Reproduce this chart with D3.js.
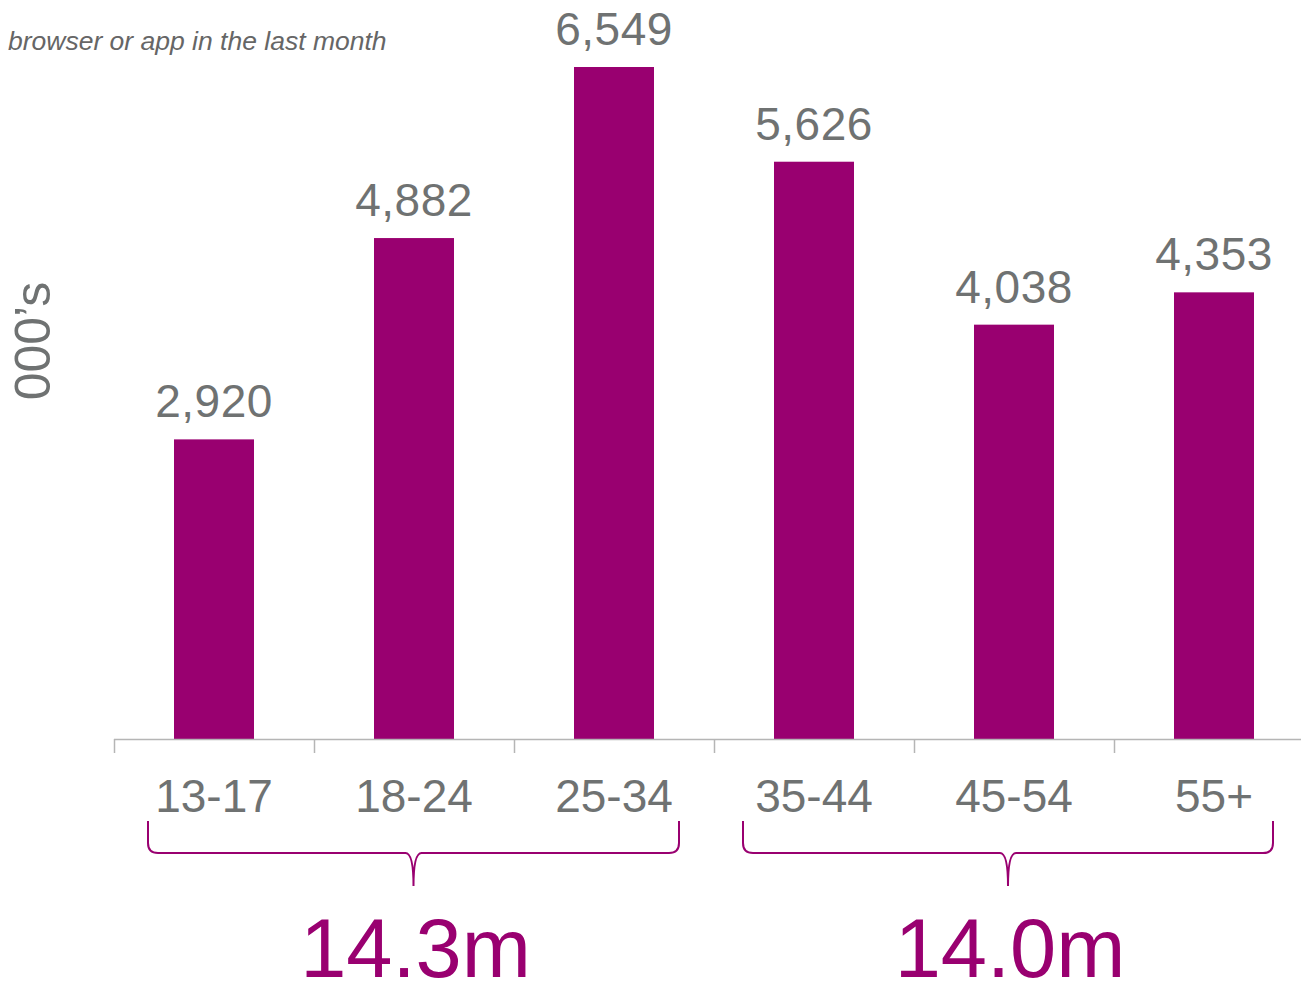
<!DOCTYPE html>
<html>
<head>
<meta charset="utf-8">
<script src="https://cdn.jsdelivr.net/npm/d3@7"></script>
<style>
  html, body { margin: 0; padding: 0; background: #fff; }
  svg { display: block; font-family: "Liberation Sans", Arial, sans-serif; }
</style>
</head>
<body>
<svg id="chart" width="1301" height="984"></svg>
<script>
// Age groups and reach (thousands)
const ageGroups = ["13-17", "18-24", "25-34", "35-44", "45-54", "55+"];
const reach = [2920, 4882, 6549, 5626, 4038, 4353];
// Brace groupings with their totals
const groupSpans = [["13-17", "25-34"], ["35-44", "55+"]];
const groupTotals = ["14.3m", "14.0m"];

const purple = "#990070";
const grey = "#6f7272";
const axisGrey = "#b5b5b5";

const svg = d3.select("#chart");
const baseY = 739;

const x = d3.scaleBand().domain(ageGroups).range([114, 1314]).paddingInner(0.6).paddingOuter(0.3);
const y = d3.scaleLinear().domain([0, 7000]).range([baseY, baseY - 7000 * 0.10261]);

// subtitle fragment
svg.append("text")
  .attr("x", 8).attr("y", 50)
  .attr("font-size", 26.5).attr("font-style", "italic")
  .attr("fill", "#666").text("browser or app in the last month");

// y label
svg.append("text")
  .attr("transform", "translate(50,341) rotate(-90)")
  .attr("text-anchor", "middle")
  .attr("font-size", 50).attr("fill", grey)
  .text("000\u2019s");

// bars
svg.append("g").selectAll("rect").data(ageGroups).join("rect")
  .attr("x", d => x(d))
  .attr("width", x.bandwidth())
  .attr("y", (d, i) => y(reach[i]))
  .attr("height", (d, i) => y(0) - y(reach[i]))
  .attr("fill", purple);

// value labels
const fmt = d3.format(",");
svg.append("g").selectAll("text").data(ageGroups).join("text")
  .attr("x", d => x(d) + x.bandwidth() / 2)
  .attr("y", (d, i) => y(reach[i]) - 22)
  .attr("text-anchor", "middle")
  .attr("font-size", 46).attr("fill", grey)
  .attr("letter-spacing", 0.5)
  .text((d, i) => fmt(reach[i]));

// category axis: ticks at band edges
const step = x.step();
const edges = d3.scaleLinear().domain([0, ageGroups.length]).range([114, 114 + step * ageGroups.length]);
const axisG = svg.append("g").attr("transform", `translate(0,${baseY})`)
  .call(d3.axisBottom(edges).tickValues(d3.range(ageGroups.length)).tickSize(14).tickFormat("").tickSizeOuter(0));
axisG.select(".domain").attr("stroke", axisGrey).attr("stroke-width", 1.5).attr("d", `M114,0.5H1301`);
axisG.selectAll(".tick line").attr("stroke", axisGrey).attr("stroke-width", 1.5);

svg.append("g").selectAll("text").data(ageGroups).join("text")
  .attr("x", d => x(d) + x.bandwidth() / 2)
  .attr("y", 812)
  .attr("text-anchor", "middle")
  .attr("font-size", 46).attr("fill", grey)
  .text(d => d);

// curly braces under grouped categories
function bracePath(x0, x1, top, mid, tip) {
  const r = 10;
  const c = (x0 + x1) / 2;
  return `M${x0},${top} L${x0},${mid - r} Q${x0},${mid} ${x0 + r},${mid}` +
    ` L${c - 8},${mid} Q${c},${mid} ${c},${tip}` +
    ` M${x1},${top} L${x1},${mid - r} Q${x1},${mid} ${x1 - r},${mid}` +
    ` L${c + 8},${mid} Q${c},${mid} ${c},${tip}`;
}
const braceInset = [[-26, 25], [-31, 19]];
groupSpans.forEach((span, i) => {
  const x0 = x(span[0]) + braceInset[i][0];
  const x1 = x(span[1]) + x.bandwidth() + braceInset[i][1];
  svg.append("path")
    .attr("d", bracePath(x0, x1, 821, 853, 886))
    .attr("fill", "none").attr("stroke", purple).attr("stroke-width", 2);
  svg.append("text")
    .attr("x", (x0 + x1) / 2 + 2).attr("y", 977)
    .attr("text-anchor", "middle")
    .attr("font-size", 83).attr("fill", purple)
    .text(groupTotals[i]);
});
</script>
</body>
</html>
